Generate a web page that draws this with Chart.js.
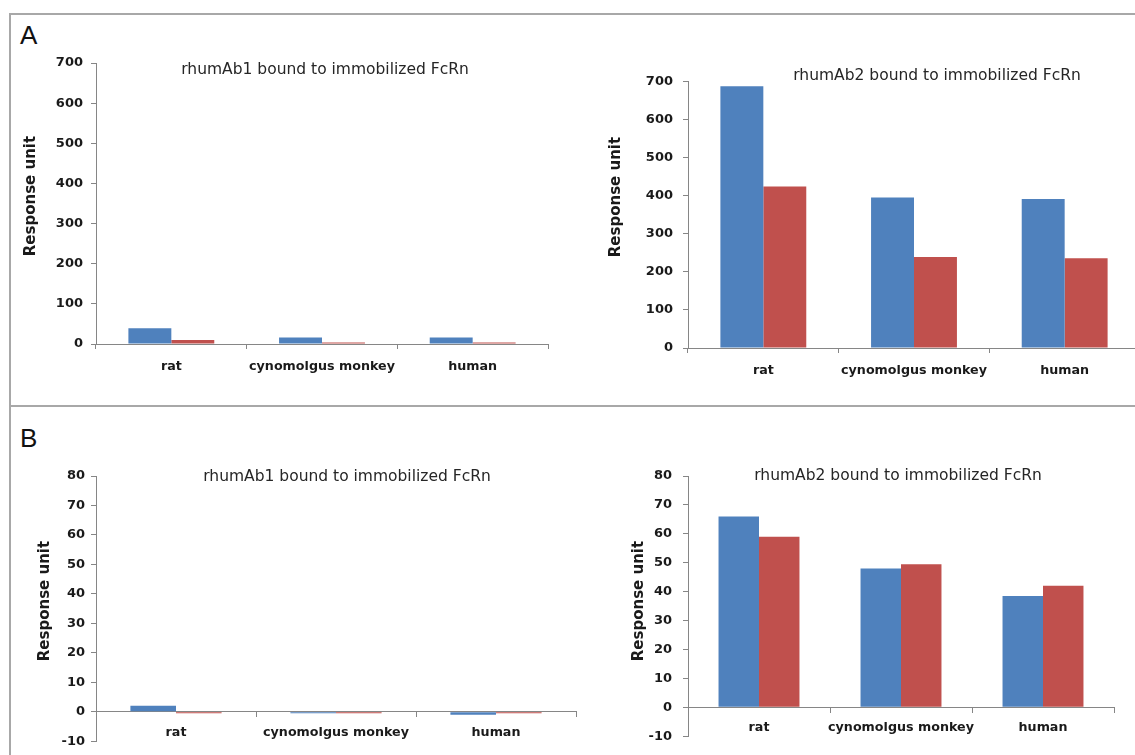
<!DOCTYPE html>
<html>
<head>
<meta charset="utf-8">
<script src="https://cdn.jsdelivr.net/npm/chart.js@4.4.1/dist/chart.umd.min.js"></script>
<style>
  html, body { margin: 0; padding: 0; background: #ffffff; overflow: hidden; width: 1135px; height: 755px; }
  .panel { position: absolute; border: 2px solid #a8a8a8; box-sizing: border-box; }
  .letter { position: absolute; font-family: "Liberation Sans", Arial, sans-serif; font-size: 26px; line-height: 26px; color: #111; }
  canvas { position: absolute; }
</style>
</head>
<body>
<div class="panel" style="left:9px; top:13px; width:1140px; height:394px;"></div>
<div class="panel" style="left:9px; top:405px; width:1140px; height:400px;"></div>
<div class="letter" style="left:20px; top:22px;">A</div>
<div class="letter" style="left:20px; top:425px;">B</div>

<canvas id="a1" width="544" height="344" style="left:16px; top:46px;"></canvas>
<canvas id="a2" width="542" height="330" style="left:608px; top:64px;"></canvas>
<canvas id="b1" width="574" height="299" style="left:16px; top:456px;"></canvas>
<canvas id="b2" width="520" height="299" style="left:608px; top:456px;"></canvas>

<script>
// Species on the category axis
const species = ['rat', 'cynomolgus monkey', 'human'];

// Panel A: binding responses (RU)
const a1Blue = [39, 16, 16];
const a1Red = [10, 4, 4];
const a2Blue = [688, 396, 392];
const a2Red = [425, 239, 236];

// Panel B: binding responses (RU)
const b1Blue = [2, -0.5, -1];
const b1Red = [-0.5, -0.5, -0.5];
const b2Blue = [66, 48, 38.5];
const b2Red = [59, 49.5, 42];

// Value axis ranges
const aTicks = { min: 0, max: 700, step: 100 };
const bTicks = { min: -10, max: 80, step: 10 };

const chartTitle1 = 'rhumAb1 bound to immobilized FcRn';
const chartTitle2 = 'rhumAb2 bound to immobilized FcRn';
const yTitle = 'Response unit';

const BLUE = '#4f81bd';
const RED = '#c0504d';
const AXIS = '#868686';
const TEXT = '#1a1a1a';
const FONT = '"DejaVu Sans", Verdana, sans-serif';

// Draws the in-plot title and the rotated value-axis title
const captionPlugin = {
  id: 'captions',
  afterDraw(chart, args, opts) {
    const ctx = chart.ctx;
    ctx.save();
    ctx.fillStyle = '#262626';
    ctx.font = '15.5px ' + FONT;
    ctx.textAlign = 'center';
    ctx.textBaseline = 'middle';
    ctx.fillText(opts.title, opts.titleX, opts.titleY);
    ctx.translate(opts.yTitleX, opts.yTitleY);
    ctx.rotate(-Math.PI / 2);
    ctx.fillStyle = TEXT;
    ctx.font = 'bold 15px ' + FONT;
    ctx.fillText(yTitle, 0, 0);
    ctx.restore();
  }
};

function makeChart(id, cfg) {
  const xScale = {
    type: 'category',
    grid: { display: true, drawOnChartArea: false, drawTicks: true, tickLength: 5, tickColor: AXIS, offset: true },
    border: { display: true, color: AXIS, width: 1 },
    ticks: { color: TEXT, font: { family: FONT, size: 12.7, weight: 'bold' }, padding: cfg.xPad, maxRotation: 0, autoSkip: false }
  };
  if (cfg.xAtZero) {
    xScale.position = { y: 0 };
  } else {
    xScale.afterFit = s => { s.height = cfg.xHeight; };
  }
  return new Chart(document.getElementById(id), {
    type: 'bar',
    data: {
      labels: species,
      datasets: [
        { label: 'Series 1', data: cfg.blue, backgroundColor: BLUE, borderWidth: 0 },
        { label: 'Series 2', data: cfg.red, backgroundColor: RED, borderWidth: 0 }
      ]
    },
    options: {
      responsive: false,
      animation: false,
      devicePixelRatio: 1,
      categoryPercentage: 0.57,
      barPercentage: 1.0,
      layout: { padding: cfg.padding },
      plugins: {
        legend: { display: false },
        tooltip: { enabled: false },
        captions: cfg.captions
      },
      scales: {
        x: xScale,
        y: {
          min: cfg.ticks.min,
          max: cfg.ticks.max,
          afterFit: s => { s.width = 80; },
          grid: { display: true, drawOnChartArea: false, drawTicks: true, tickLength: 5, tickColor: AXIS },
          border: { display: true, color: AXIS, width: 1 },
          ticks: { stepSize: cfg.ticks.step, color: TEXT, font: { family: FONT, size: 13, weight: 'bold' }, padding: cfg.yPad }
        }
      }
    },
    plugins: [captionPlugin]
  });
}

makeChart('a1', {
  blue: a1Blue, red: a1Red, ticks: aTicks,
  padding: { top: 17, right: 12, bottom: 0, left: 0 },
  xHeight: 46, xPad: 10, yPad: 8,
  captions: { title: chartTitle1, titleX: 309, titleY: 24, yTitleX: 15, yTitleY: 150 }
});

makeChart('a2', {
  blue: a2Blue, red: a2Red, ticks: aTicks,
  padding: { top: 16, right: 10, bottom: 0, left: 0 },
  xHeight: 46, xPad: 10, yPad: 10,
  captions: { title: chartTitle2, titleX: 329, titleY: 12, yTitleX: 8, yTitleY: 133 }
});

makeChart('b1', {
  blue: b1Blue, red: b1Red, ticks: bTicks, xAtZero: true,
  padding: { top: 20, right: 14, bottom: 13, left: 0 },
  xPad: 8, yPad: 6,
  captions: { title: chartTitle1, titleX: 331, titleY: 21, yTitleX: 29, yTitleY: 145 }
});

makeChart('b2', {
  blue: b2Blue, red: b2Red, ticks: bTicks, xAtZero: true,
  padding: { top: 20, right: 14, bottom: 13, left: 0 },
  xPad: 8, yPad: 11,
  captions: { title: chartTitle2, titleX: 290, titleY: 20, yTitleX: 31, yTitleY: 145 }
});
</script>
</body>
</html>
